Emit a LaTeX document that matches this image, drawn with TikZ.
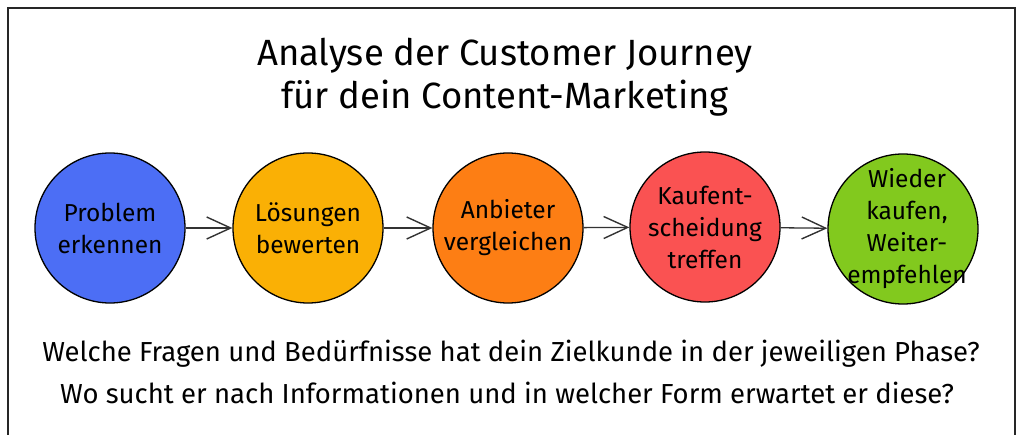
\documentclass[tikz,border=0pt]{standalone}
\usepackage{fontspec}
\setmainfont{Fira Sans}
\usetikzlibrary{arrows.meta}
\definecolor{cblue}{HTML}{4C6EF5}
\definecolor{cyellow}{HTML}{FAB005}
\definecolor{corange}{HTML}{FD7E14}
\definecolor{cred}{HTML}{FA5252}
\definecolor{cgreen}{HTML}{82C91E}
\tikzset{
  phasetext/.style={align=center, font=\fontsize{24.5}{32}\selectfont, text=black},
  phase/.style={circle, draw=black, line width=1.3pt, minimum size=150pt, inner sep=0pt, phasetext},
  arr/.style={draw=black!80, line width=1.3pt, -{Straight Barb[length=24pt,width=22pt,line width=1.4pt]}},
  frame/.style={draw=black!85, line width=2pt},
  titletext/.style={align=center, font=\fontsize{36.5}{43}\selectfont},
  bodytext/.style={anchor=center, font=\fontsize{27.5}{32}\selectfont}
}
\begin{document}
\begin{tikzpicture}[x=1pt,y=-1pt]
\useasboundingbox (0,0) rectangle (1024,435);
\fill[white] (0,0) rectangle (1024,435);
% frame (open at bottom)
\coordinate (fbl) at (8,440);
\coordinate (ftl) at (8,8);
\coordinate (ftr) at (1015,8);
\coordinate (fbr) at (1015,440);
\draw[frame] (fbl) -- (ftl) -- (ftr) -- (fbr);
% title
\node[titletext] (title) at (505,77) {Analyse der Customer Journey\\für dein Content-Marketing};
% phases
\node[phase, fill=cblue]   (c1) at (110,228) {Problem\\erkennen};
\node[phase, fill=cyellow] (c2) at (308,228) {Lösungen\\bewerten};
\node[phase, fill=corange] (c3) at (508,228) {Anbieter\\vergleichen};
\node[phase, fill=cred]    (c4) at (705,227) {Kaufent-\\scheidung\\treffen};
\node[phase, fill=cgreen, label={[phasetext, xshift=4pt]center:Wieder\\kaufen,\\Weiter-\\empfehlen}] (c5) at (903,229) {};
\draw[arr] (c1) -- (c2);
\draw[arr] (c2) -- (c3);
\draw[arr] (c3) -- (c4);
\draw[arr] (c4) -- (c5);
% questions
\node[bodytext] (q1) at (511,354) {Welche Fragen und Bedürfnisse hat dein Zielkunde in der jeweiligen Phase?};
\node[bodytext] (q2) at (507,393) {Wo sucht er nach Informationen und in welcher Form erwartet er diese?};
\end{tikzpicture}
\end{document}
